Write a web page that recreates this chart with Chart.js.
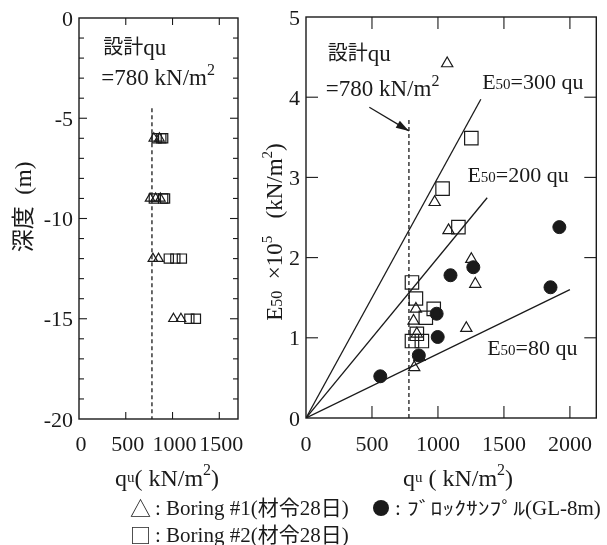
<!DOCTYPE html>
<html><head><meta charset="utf-8">
<script src="https://cdn.jsdelivr.net/npm/chart.js@4.4.0/dist/chart.umd.min.js"></script>
<style>
body{margin:0;background:#fff;width:607px;height:545px;overflow:hidden}
canvas{position:absolute;left:0;top:0}
</style></head>
<body>
<canvas id="c1" width="607" height="545"></canvas>
<canvas id="c2" width="607" height="545"></canvas>
<script>
// ---------- data ----------
const designQu = 780;
const depthTicks = [0, -5, -10, -15, -20];
const leftQuTicks = [0, 500, 1000, 1500];
const rightQuTicks = [0, 500, 1000, 1500, 2000];
const e50Ticks = [0, 1, 2, 3, 4, 5];

// left panel: depth vs qu
const leftTriQu    = [800, 860, 760, 820, 870, 790, 850, 1010, 1090];
const leftTriDepth = [-6, -6, -9, -9, -9, -12, -12, -15, -15];
const leftSqQu     = [830, 880, 900, 800, 900, 920, 960, 1030, 1100, 1180, 1250];
const leftSqDepth  = [-6, -6, -6, -9, -9, -9, -12, -12, -12, -15, -15];

// right panel: E50 (x10^5 kN/m2) vs qu
const triQu = [1070, 975, 1080, 1253, 1283, 1215, 833, 815, 840, 860, 820];
const triE  = [4.42, 2.69, 2.34, 1.98, 1.67, 1.12, 1.36, 1.21, 1.05, 0.76, 0.63];
const sqQu  = [1253, 1035, 1155, 803, 833, 968, 908, 803, 878, 840];
const sqE   = [3.49, 2.86, 2.38, 1.69, 1.49, 1.36, 1.25, 0.96, 0.96, 1.05];
const blkQu = [563, 855, 990, 998, 1095, 1268, 1853, 1920];
const blkE  = [0.52, 0.78, 1.30, 1.01, 1.78, 1.88, 1.63, 2.38];

// reference lines E50 = k * qu
const ratioK     = [300, 200, 80];
const ratioEndQu = [1325, 1373, 2000];

// ---------- helpers ----------
const INK = '#1a1a1a';
const SERIF = '"Liberation Serif","Noto Sans CJK JP",serif';
const CJK = '"Noto Sans CJK JP","Liberation Serif",sans-serif';
function fnt(sz, fam){ return sz + 'px ' + (fam || SERIF); }
function rich(ctx, x, y, segs, align){
  let w = 0;
  segs.forEach(s => { ctx.font = fnt(s.s, s.f); s.w = ctx.measureText(s.t).width; w += s.w; });
  let cx = align === 'center' ? x - w/2 : align === 'right' ? x - w : x;
  ctx.textBaseline = 'alphabetic'; ctx.textAlign = 'left';
  segs.forEach(s => { ctx.font = fnt(s.s, s.f); ctx.fillText(s.t, cx, y + (s.dy || 0)); cx += s.w; });
}
function pts(xs, ys){ return xs.map((v, i) => ({x: v, y: ys[i]})); }
function line(ctx, x1, y1, x2, y2){ ctx.beginPath(); ctx.moveTo(x1, y1); ctx.lineTo(x2, y2); ctx.stroke(); }

const markerTri = (r) => ({pointStyle: 'triangle', pointRadius: r, pointBorderWidth: 1.2,
  pointBorderColor: INK, pointBackgroundColor: 'rgba(255,255,255,0)', showLine: false});
const markerSq = (r) => ({pointStyle: 'rect', pointRadius: r, pointBorderWidth: 1.2,
  pointBorderColor: INK, pointBackgroundColor: 'rgba(255,255,255,0)', showLine: false});

const TICK_FS = 22;

// ---------- left chart ----------
const leftPlugin = {
  id: 'leftDeco',
  afterDraw(chart){
    const ctx = chart.ctx, a = chart.chartArea, xs = chart.scales.x, ys = chart.scales.y;
    ctx.save();
    ctx.strokeStyle = INK; ctx.fillStyle = INK; ctx.lineWidth = 1.4;
    ctx.strokeRect(a.left, a.top, a.right - a.left, a.bottom - a.top);
    ctx.lineWidth = 1.1;
    leftQuTicks.slice(1).forEach(v => {
      const px = xs.getPixelForValue(v);
      line(ctx, px, a.top, px, a.top + 7);
      line(ctx, px, a.bottom, px, a.bottom - 7);
    });
    for (let d = -1; d > -20; d--) {
      const py = ys.getPixelForValue(d);
      const L = (d % 5 === 0) ? 8 : 5;
      line(ctx, a.left, py, a.left + L, py);
      line(ctx, a.right, py, a.right - L, py);
    }
    ctx.font = fnt(TICK_FS);
    ctx.textBaseline = 'alphabetic';
    ctx.textAlign = 'right';
    depthTicks.forEach(v => ctx.fillText(String(v), a.left - 6, ys.getPixelForValue(v) + 7.5));
    ctx.textAlign = 'center';
    leftQuTicks.forEach(v => ctx.fillText(String(v), xs.getPixelForValue(v) + 2, a.bottom + 32));
    // annotation
    const ax = xs.getPixelForValue(260);
    rich(ctx, ax, ys.getPixelForValue(-1.45) + 8, [{t: '設計', s: 20, f: CJK, dy: -1}, {t: 'qu', s: 23}], 'left');
    rich(ctx, ax - 2, ys.getPixelForValue(-2.95) + 8, [{t: '=780 kN/m', s: 23}, {t: '2', s: 16, dy: -10}], 'left');
    // x title
    rich(ctx, 167, 486, [{t: 'q', s: 24}, {t: 'u', s: 15, dy: -4}, {t: '( kN/m', s: 24}, {t: '2', s: 16, dy: -11}, {t: ')', s: 24}], 'center');
    // y title
    ctx.translate(23, 207);
    ctx.rotate(-Math.PI / 2);
    rich(ctx, 0, 8, [{t: '深度', s: 23, f: CJK}, {t: '  (m)', s: 23}], 'center');
    ctx.restore();
  }
};

new Chart(document.getElementById('c1'), {
  type: 'scatter',
  data: { datasets: [
    Object.assign({ data: pts(leftTriQu, leftTriDepth) }, markerTri(5.5)),
    Object.assign({ data: pts(leftSqQu, leftSqDepth) }, markerSq(6.5)),
    { data: [{x: designQu, y: -4.5}, {x: designQu, y: -20}], showLine: true, borderColor: INK,
      borderWidth: 1.3, borderDash: [4, 3], pointRadius: 0 }
  ]},
  options: {
    responsive: false, animation: false, events: [],
    layout: { padding: { left: 79, right: 607 - 238, top: 18, bottom: 545 - 419 } },
    plugins: { legend: { display: false }, tooltip: { enabled: false } },
    scales: {
      x: { type: 'linear', min: 0, max: 1700, display: false },
      y: { type: 'linear', min: -20, max: 0, display: false }
    }
  },
  plugins: [leftPlugin]
});

// ---------- right chart ----------
const rightPlugin = {
  id: 'rightDeco',
  afterDraw(chart){
    const ctx = chart.ctx, a = chart.chartArea, xs = chart.scales.x, ys = chart.scales.y;
    ctx.save();
    ctx.strokeStyle = INK; ctx.fillStyle = INK; ctx.lineWidth = 1.4;
    ctx.strokeRect(a.left, a.top, a.right - a.left, a.bottom - a.top);
    ctx.lineWidth = 1.1;
    rightQuTicks.slice(1).forEach(v => {
      const px = xs.getPixelForValue(v);
      line(ctx, px, a.top, px, a.top + 12);
      line(ctx, px, a.bottom, px, a.bottom - 12);
    });
    e50Ticks.slice(1, -1).forEach(v => {
      const py = ys.getPixelForValue(v);
      line(ctx, a.left, py, a.left + 12, py);
      line(ctx, a.right, py, a.right - 12, py);
    });
    ctx.font = fnt(TICK_FS);
    ctx.textBaseline = 'alphabetic';
    ctx.textAlign = 'right';
    e50Ticks.forEach(v => ctx.fillText(String(v), a.left - 6, ys.getPixelForValue(v) + 7.5));
    ctx.textAlign = 'center';
    rightQuTicks.forEach(v => ctx.fillText(String(v), xs.getPixelForValue(v), a.bottom + 33));
    // design qu annotation
    const dx = xs.getPixelForValue(165);
    rich(ctx, dx, ys.getPixelForValue(4.55) + 8, [{t: '設計', s: 20, f: CJK, dy: -1}, {t: 'qu', s: 23}], 'left');
    rich(ctx, dx - 2, ys.getPixelForValue(4.11) + 8, [{t: '=780 kN/m', s: 23}, {t: '2', s: 16, dy: -10}], 'left');
    // arrow
    const x1 = xs.getPixelForValue(480), y1 = ys.getPixelForValue(3.875);
    const x2 = xs.getPixelForValue(designQu), y2 = ys.getPixelForValue(3.58);
    ctx.lineWidth = 1.3;
    line(ctx, x1, y1, x2, y2);
    const ang = Math.atan2(y2 - y1, x2 - x1);
    ctx.beginPath();
    ctx.moveTo(x2, y2);
    ctx.lineTo(x2 - 13 * Math.cos(ang) + 4 * Math.sin(ang), y2 - 13 * Math.sin(ang) - 4 * Math.cos(ang));
    ctx.lineTo(x2 - 13 * Math.cos(ang) - 4 * Math.sin(ang), y2 - 13 * Math.sin(ang) + 4 * Math.cos(ang));
    ctx.closePath(); ctx.fill();
    // line labels
    const lbl = (k, q, e) => rich(ctx, xs.getPixelForValue(q), ys.getPixelForValue(e) + 7,
      [{t: 'E', s: 22}, {t: '50', s: 15}, {t: '=' + k + ' qu', s: 22}], 'left');
    lbl(ratioK[0], 1335, 4.19);
    lbl(ratioK[1], 1223, 3.03);
    lbl(ratioK[2], 1373, 0.875);
    // x title
    rich(ctx, 458, 486, [{t: 'q', s: 24}, {t: 'u', s: 15, dy: -4}, {t: ' ( kN/m', s: 24}, {t: '2', s: 16, dy: -11}, {t: ')', s: 24}], 'center');
    // y title
    ctx.save();
    ctx.translate(274, 232);
    ctx.rotate(-Math.PI / 2);
    rich(ctx, 0, 8, [{t: 'E', s: 23}, {t: '50', s: 16}, {t: '  \u00d710', s: 23}, {t: '5', s: 15, dy: -10},
      {t: '   (kN/m', s: 23}, {t: '2', s: 15, dy: -10}, {t: ')', s: 23}], 'center');
    ctx.restore();
    // legend
    ctx.textAlign = 'left'; ctx.textBaseline = 'middle';
    ctx.font = fnt(21, CJK);
    ctx.fillText('△', 130, 508);
    ctx.fillText('□', 130, 535);
    ctx.font = fnt(21);
    ctx.fillText(': Boring #1(材令28日)', 155, 509);
    ctx.fillText(': Boring #2(材令28日)', 155, 536);
    ctx.beginPath(); ctx.arc(381, 508, 8, 0, Math.PI * 2); ctx.fill();
    ctx.fillText(': ', 395, 509);
    ctx.font = fnt(18, CJK);
    const kana = 'ﾌﾞﾛｯｸｻﾝﾌﾟﾙ';
    const kw = ctx.measureText(kana).width;
    const sx = 118 / kw;
    ctx.save();
    ctx.translate(407, 508);
    ctx.scale(sx, 1);
    ctx.fillText(kana, 0, 0);
    ctx.restore();
    ctx.font = fnt(21);
    ctx.fillText('(GL-8m)', 407 + 118, 509);
    ctx.restore();
  }
};

const refLines = ratioK.map((k, i) => ({
  data: [{x: 0, y: 0}, {x: ratioEndQu[i], y: k * ratioEndQu[i] / 1e5}],
  showLine: true, borderColor: INK, borderWidth: 1.3, pointRadius: 0
}));

new Chart(document.getElementById('c2'), {
  type: 'scatter',
  data: { datasets: [
    Object.assign({ data: pts(triQu, triE) }, markerTri(6.5)),
    Object.assign({ data: pts(sqQu, sqE) }, markerSq(9.5)),
    { data: pts(blkQu, blkE), pointStyle: 'circle', pointRadius: 6.5, pointBorderWidth: 1,
      pointBorderColor: INK, pointBackgroundColor: INK, showLine: false },
    ...refLines,
    { data: [{x: designQu, y: 0}, {x: designQu, y: 3.72}], showLine: true, borderColor: INK,
      borderWidth: 1.3, borderDash: [4, 3], pointRadius: 0 }
  ]},
  options: {
    responsive: false, animation: false, events: [],
    layout: { padding: { left: 306, right: 607 - 600, top: 17, bottom: 545 - 418 } },
    plugins: { legend: { display: false }, tooltip: { enabled: false } },
    scales: {
      x: { type: 'linear', min: 0, max: 2200, display: false },
      y: { type: 'linear', min: 0, max: 5, display: false }
    }
  },
  plugins: [rightPlugin]
});
</script>
</body></html>
